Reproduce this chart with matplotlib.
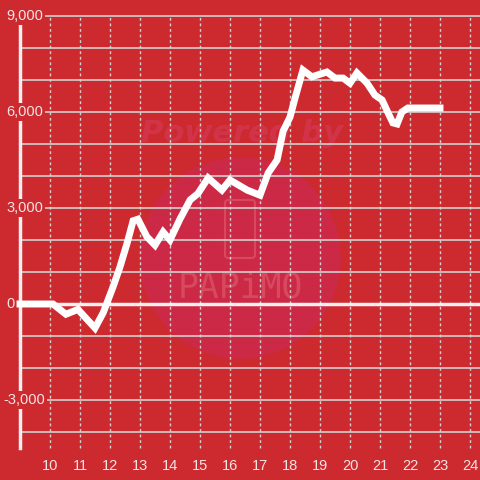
import numpy as np
import matplotlib.pyplot as plt
from matplotlib.patches import Ellipse, FancyBboxPatch

# === Data ===
hours = [9.0, 10.1, 10.3, 10.53, 10.93, 11.5, 11.77, 12.1, 12.33, 12.57, 12.77, 12.93,
         13.23, 13.5, 13.77, 14.0, 14.33, 14.67, 14.93, 15.27, 15.73, 16.0, 16.57, 17.0,
         17.27, 17.57, 17.77, 18.0, 18.17, 18.43, 18.73, 19.23, 19.5, 19.77, 20.0, 20.23,
         20.57, 20.83, 21.07, 21.27, 21.43, 21.57, 21.73, 21.93, 23.0]
values = [0, 0, -150, -320, -170, -750, -280, 530, 1150, 1900, 2600, 2650,
          2100, 1840, 2250, 2000, 2650, 3250, 3450, 3940, 3560, 3875, 3560, 3400,
          4090, 4500, 5400, 5840, 6440, 7310, 7100, 7250, 7060, 7060, 6900, 7220,
          6900, 6530, 6375, 5970, 5660, 5625, 6000, 6125, 6125]
x_ticks = list(range(10, 25))
y_labels = [9000, 6000, 3000, 0, -3000]

bg = "#cd2a2f"
txt = "#f3e4e4"
grid_c = "#d4d0d0"

fig = plt.figure(figsize=(4.8, 4.8), dpi=100, facecolor=bg)
ax = fig.add_axes([0, 0, 1, 1])
ax.set_facecolor(bg)
ax.set_xlim(9 - 20 / 30, 9 - 20 / 30 + 16)
ax.set_ylim(-5500, 9500)
ax.axis("off")

# watermark (px -> data)
def px(x, y):
    return 9 - 20 / 30 + x / 30, 9500 - y * 31.25

cx, cy = px(240, 258)
ax.add_patch(Ellipse((cx, cy), 200 / 30, 200 * 31.25, color="#cc2947", zorder=0))
tx, ty = px(242, 133)
ax.text(tx, ty, "Powered by", color="#d8416a", fontsize=22, fontweight="bold",
        fontstyle="italic", ha="center", va="center", alpha=0.45, zorder=0,
        family="DejaVu Sans")
tx, ty = px(240, 288)
ax.text(tx, ty, "PAPiMO", color="#e06a78", fontsize=25, ha="center", va="center",
        alpha=0.5, zorder=0, family="DejaVu Sans Mono")
rx, ry = px(225, 200)
ax.add_patch(FancyBboxPatch((rx, ry - 58 * 31.25), 30 / 30, 58 * 31.25,
                            boxstyle="round,pad=0,rounding_size=0.1",
                            fill=False, ec="#e06a78", lw=1.5, alpha=0.5, zorder=0,
                            mutation_aspect=31.25 * 30))

# grid
for v in range(-4000, 9001, 1000):
    if v == 0:
        continue
    ax.plot([9, 25], [v, v], color=grid_c, lw=1.2, zorder=1)
for h in x_ticks:
    ax.plot([h, h], [-4500, 9000], color=grid_c, lw=1, ls=(0, (2, 2)), zorder=1)
ax.plot([9, 25], [0, 0], color="#f4efef", lw=2.5, zorder=2)
ax.plot([9, 9], [-4500, 9000], color="#f4efef", lw=2.5, zorder=2)

# labels
for v in y_labels:
    lx = px(3 if v < 0 else 6, 0)[0]
    ax.text(lx, v, f"{v:,}", color=txt, fontsize=10.5, ha="left", va="center",
            family="Liberation Sans", zorder=4,
            bbox=dict(facecolor=bg, edgecolor="none", pad=1.5))
for h in x_ticks:
    ax.text(h, -5050, str(h), color=txt, fontsize=10.5, ha="center", va="center",
            family="Liberation Sans", zorder=4)

# series
ax.plot(hours, values, color="white", lw=5, solid_joinstyle="miter", zorder=5)

fig.savefig("out.png", dpi=100, facecolor=bg)
